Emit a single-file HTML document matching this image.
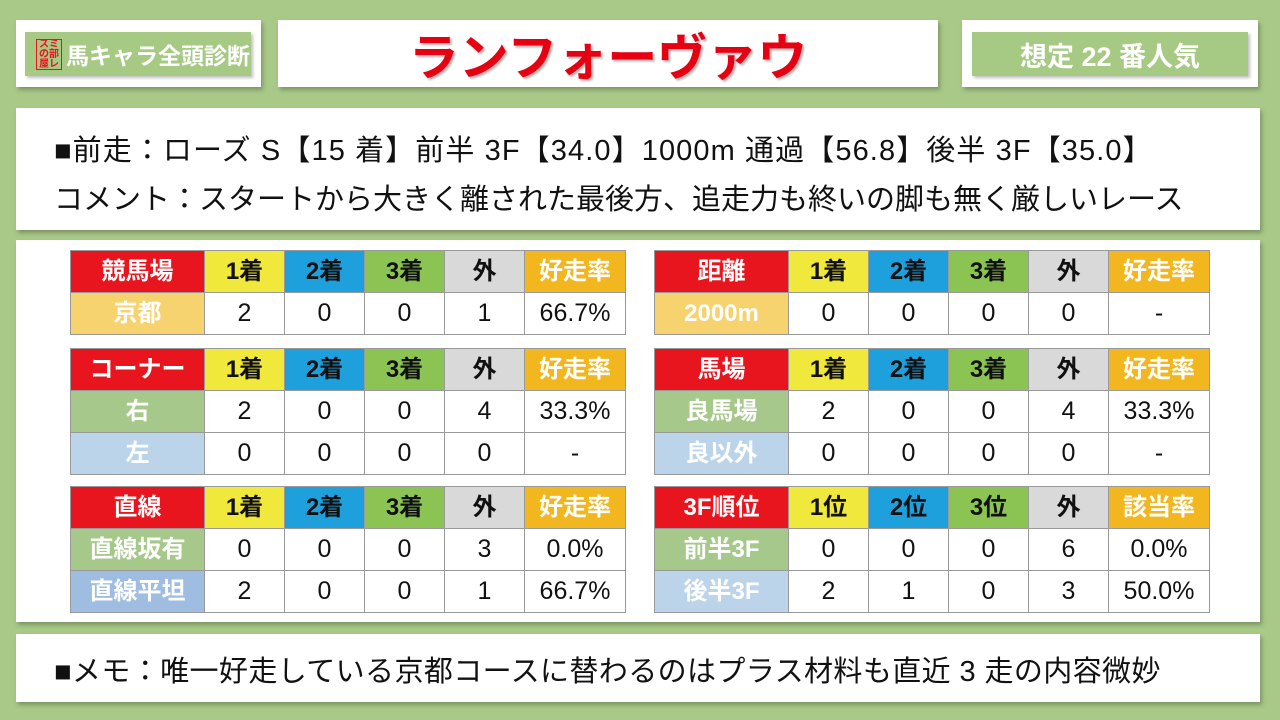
<!DOCTYPE html>
<html><head><meta charset="utf-8"><style>
*{margin:0;padding:0;box-sizing:border-box}
body{width:1280px;height:720px;background:#a8c987;position:relative;overflow:hidden;font-family:"Liberation Sans","Noto Sans CJK JP",sans-serif}
.box{position:absolute;background:#fff;box-shadow:2px 3px 4px rgba(0,0,0,.25)}
.g{position:absolute;background:#a6c983;box-shadow:2px 2px 3px rgba(0,0,0,.25);color:#fff;font-weight:bold;font-size:24px;display:flex;align-items:center;justify-content:center}
table{position:absolute;border-collapse:collapse;table-layout:fixed}
td{height:42px;border:1px solid #999;text-align:center;font-size:25px;color:#111;font-family:"Liberation Sans","Noto Sans CJK JP",sans-serif;line-height:1}
td.l{color:#fff;font-weight:bold;font-size:24px}
.h td{font-weight:bold;font-size:24px}
.r{background:#e8141e;color:#fff}.y{background:#f0e83a}.b{background:#1ea0dc}.gr{background:#8cc454}.gy{background:#d9d9d9}.o{background:#f2b71e;color:#fff}
.c1{background:#f7d36f}.c2{background:#a6c98b}.c3{background:#bcd4ea}
.t{position:absolute;font-size:29px;color:#111;white-space:nowrap}
</style></head><body>
<div class="box" style="left:16px;top:20px;width:245px;height:67px"></div>
<div class="g" style="left:25px;top:32px;width:226px;height:44px;padding-left:40px;font-size:23px">馬キャラ全頭診断</div>
<div style="position:absolute;left:36px;top:39px;width:26px;height:31px;border:1.5px solid #e8141e;color:#e8141e;font-size:10px;line-height:10px;font-weight:bold;text-align:center">スミ<br>の部<br>屋レ</div>
<div class="box" style="left:278px;top:20px;width:660px;height:67px;display:flex;align-items:center;justify-content:center;color:#e60012;font-weight:bold;font-size:50px;text-shadow:2px 2px 2px rgba(0,0,0,.3)">ランフォーヴァウ</div>
<div class="box" style="left:962px;top:20px;width:296px;height:67px"></div>
<div class="g" style="left:972px;top:32px;width:276px;height:44px;font-size:27px">想定 22 番人気</div>
<div class="box" style="left:16px;top:108px;width:1244px;height:122px"></div>
<div class="t" style="left:54px;top:127px;letter-spacing:1.1px">■前走：ローズ S【15 着】前半 3F【34.0】1000m 通過【56.8】後半 3F【35.0】</div>
<div class="t" style="left:54px;top:176px">コメント：スタートから大きく離された最後方、追走力も終いの脚も無く厳しいレース</div>
<div class="box" style="left:16px;top:240px;width:1244px;height:382px"></div>
<div class="box" style="left:16px;top:634px;width:1244px;height:68px"></div>
<div class="t" style="left:54px;top:648px;letter-spacing:0.4px">■メモ：唯一好走している京都コースに替わるのはプラス材料も直近 3 走の内容微妙</div>

<table style="left:70px;top:250px;width:555px"><colgroup><col style="width:134px"><col style="width:80px"><col style="width:80px"><col style="width:80px"><col style="width:80px"><col style="width:101px"></colgroup>
<tr class="h"><td class="r">競馬場</td><td class="y">1着</td><td class="b">2着</td><td class="gr">3着</td><td class="gy">外</td><td class="o">好走率</td></tr>
<tr><td class="l c1">京都</td><td>2</td><td>0</td><td>0</td><td>1</td><td>66.7%</td></tr></table>
<table style="left:70px;top:348px;width:555px"><colgroup><col style="width:134px"><col style="width:80px"><col style="width:80px"><col style="width:80px"><col style="width:80px"><col style="width:101px"></colgroup>
<tr class="h"><td class="r">コーナー</td><td class="y">1着</td><td class="b">2着</td><td class="gr">3着</td><td class="gy">外</td><td class="o">好走率</td></tr>
<tr><td class="l c2">右</td><td>2</td><td>0</td><td>0</td><td>4</td><td>33.3%</td></tr>
<tr><td class="l c3">左</td><td>0</td><td>0</td><td>0</td><td>0</td><td>-</td></tr></table>
<table style="left:70px;top:486px;width:555px"><colgroup><col style="width:134px"><col style="width:80px"><col style="width:80px"><col style="width:80px"><col style="width:80px"><col style="width:101px"></colgroup>
<tr class="h"><td class="r">直線</td><td class="y">1着</td><td class="b">2着</td><td class="gr">3着</td><td class="gy">外</td><td class="o">好走率</td></tr>
<tr><td class="l c2">直線坂有</td><td>0</td><td>0</td><td>0</td><td>3</td><td>0.0%</td></tr>
<tr><td class="l" style="background:#9ebde0">直線平坦</td><td>2</td><td>0</td><td>0</td><td>1</td><td>66.7%</td></tr></table>

<table style="left:654px;top:250px;width:555px"><colgroup><col style="width:134px"><col style="width:80px"><col style="width:80px"><col style="width:80px"><col style="width:80px"><col style="width:101px"></colgroup>
<tr class="h"><td class="r">距離</td><td class="y">1着</td><td class="b">2着</td><td class="gr">3着</td><td class="gy">外</td><td class="o">好走率</td></tr>
<tr><td class="l c1">2000m</td><td>0</td><td>0</td><td>0</td><td>0</td><td>-</td></tr></table>
<table style="left:654px;top:348px;width:555px"><colgroup><col style="width:134px"><col style="width:80px"><col style="width:80px"><col style="width:80px"><col style="width:80px"><col style="width:101px"></colgroup>
<tr class="h"><td class="r">馬場</td><td class="y">1着</td><td class="b">2着</td><td class="gr">3着</td><td class="gy">外</td><td class="o">好走率</td></tr>
<tr><td class="l c2">良馬場</td><td>2</td><td>0</td><td>0</td><td>4</td><td>33.3%</td></tr>
<tr><td class="l c3">良以外</td><td>0</td><td>0</td><td>0</td><td>0</td><td>-</td></tr></table>
<table style="left:654px;top:486px;width:555px"><colgroup><col style="width:134px"><col style="width:80px"><col style="width:80px"><col style="width:80px"><col style="width:80px"><col style="width:101px"></colgroup>
<tr class="h"><td class="r">3F順位</td><td class="y">1位</td><td class="b">2位</td><td class="gr">3位</td><td class="gy">外</td><td class="o">該当率</td></tr>
<tr><td class="l c2">前半3F</td><td>0</td><td>0</td><td>0</td><td>6</td><td>0.0%</td></tr>
<tr><td class="l c3">後半3F</td><td>2</td><td>1</td><td>0</td><td>3</td><td>50.0%</td></tr></table>
</body></html>
